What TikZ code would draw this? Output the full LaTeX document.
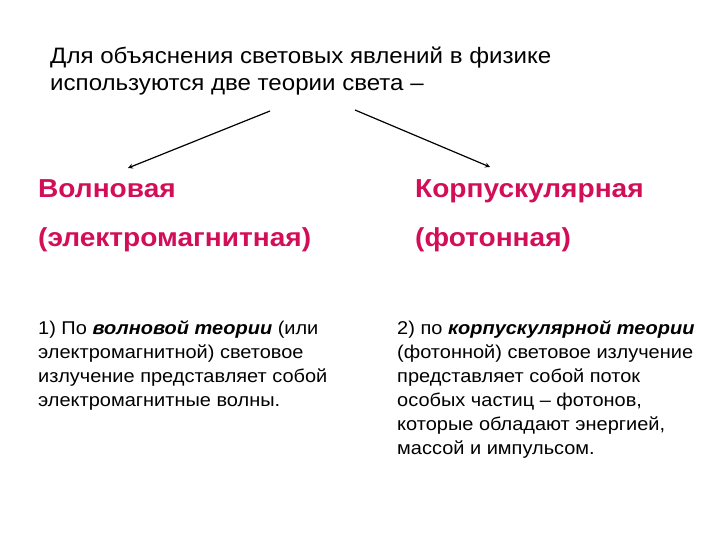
\documentclass[tikz,border=0pt]{standalone}
\usepackage{fontspec}
\setmainfont{Liberation Sans}[FakeStretch=1.08]
\usepackage{tikz}
\usetikzlibrary{arrows,positioning}
\usepackage{xcolor}
\definecolor{thpink}{RGB}{210,14,88}
\tikzstyle{intro} = [anchor=base west, align=left, inner sep=0pt, font=\fontsize{22.3}{27}\selectfont]
\tikzstyle{theory} = [anchor=base west, inner sep=0pt, text=thpink, font=\fontsize{26}{30}\selectfont\bfseries]
\tikzstyle{body} = [anchor=base west, align=left, inner sep=0pt, font=\fontsize{18.5}{24}\selectfont]
\tikzstyle{arrow} = [line width=1.2pt,->,>=stealth]

\begin{document}
\begin{tikzpicture}[x=1pt,y=-1pt]
\useasboundingbox (0,0) rectangle (720,540);
\node[intro] (intro) at (50,91) {Для объяснения световых явлений в физике\\используются две теории света --};

\node[theory] (wave) at (38,198) {Волновая};
\node[theory] (wavesub) at (38,246) {(электромагнитная)};
\node[theory] (corp) at (415,198) {Корпускулярная};
\node[theory] (corpsub) at (415,246) {(фотонная)};

% base anchor sits on the last line
\node[body] (wavetext) at (38,406) {1) По \textbf{\textit{волновой теории}} (или\\электромагнитной) световое\\излучение представляет собой\\электромагнитные волны.};
\node[body] (corptext) at (397,454) {2) по \textbf{\textit{корпускулярной теории}}\\(фотонной) световое излучение\\представляет собой поток\\особых частиц -- фотонов,\\которые обладают энергией,\\массой и импульсом.};

% arrows to both theories
\coordinate (wavefrom) at (270,111);
\coordinate (waveto) at (128,168);
\coordinate (corpfrom) at (355,110);
\coordinate (corpto) at (490,167);
\draw[arrow] (wavefrom) -- (waveto);
\draw[arrow] (corpfrom) -- (corpto);
\end{tikzpicture}
\end{document}
